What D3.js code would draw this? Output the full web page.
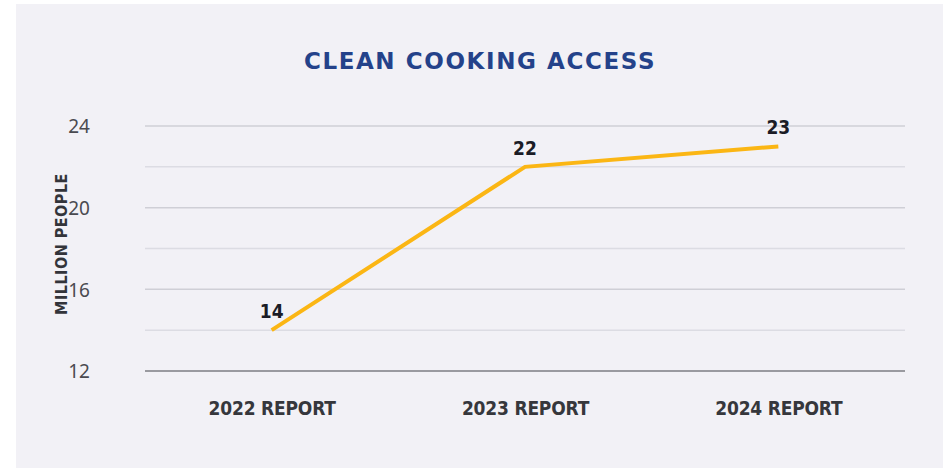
<!DOCTYPE html>
<html>
<head>
<meta charset="utf-8">
<script src="https://cdn.jsdelivr.net/npm/d3@7"></script>
<style>
  body { margin: 0; background: #ffffff; }
</style>
</head>
<body>
<div id="chart"></div>
<script>
var reports = ["2022 REPORT", "2023 REPORT", "2024 REPORT"];
var people = [14, 22, 23];
var yTicks = [12, 16, 20, 24];
var yGrid = [12, 14, 16, 18, 20, 22, 24];

var wd = 943, ht = 468;
var narrow = "'DejaVu Sans Condensed', 'DejaVu Sans', sans-serif";

var svg = d3.select('#chart')
	.append("svg")
	.attr("width", wd)
	.attr("height", ht);

// panel background
svg.append("rect")
	.attr("x", 16)
	.attr("y", 4)
	.attr("width", wd - 16)
	.attr("height", ht - 4)
	.attr("fill", "#f2f1f6");

var x = d3.scalePoint().domain(reports).range([145, 905]).padding(0.5);
var y = d3.scaleLinear().domain([12, 24]).range([371, 126]);

svg.append("text")
	.attr("x", 480)
	.attr("y", 69)
	.attr("text-anchor", "middle")
	.style("font-family", "'DejaVu Sans', sans-serif")
	.style("font-weight", "bold")
	.style("font-size", "23px")
	.style("letter-spacing", "1.6px")
	.attr("fill", "#24428a")
	.text("CLEAN COOKING ACCESS");

// gridlines
svg.selectAll(".grid")
	.data(yGrid)
	.enter()
	.append("line")
	.attr("class", "grid")
	.attr("x1", 145)
	.attr("x2", 905)
	.attr("y1", function (d) { return y(d); })
	.attr("y2", function (d) { return y(d); })
	.attr("stroke", function (d) { return d === 12 ? "#9a9aa0" : (d % 4 === 0 ? "#cfcfd6" : "#dcdce3"); })
	.attr("stroke-width", function (d) { return d === 12 ? 2 : 1.5; });

// y axis labels
var yAxis = d3.axisLeft(y).tickValues(yTicks).tickSize(0).tickPadding(0);
var gy = svg.append("g")
	.attr("transform", "translate(90,0)")
	.call(yAxis);
gy.select(".domain").remove();
gy.selectAll("text")
	.attr("dy", "0.36em")
	.style("font-family", "'Noto Sans', sans-serif")
	.style("font-weight", "400")
	.style("font-size", "19px")
	.attr("fill", "#4a4a50");

svg.append("text")
	.attr("transform", "translate(67,244) rotate(-90)")
	.attr("text-anchor", "middle")
	.style("font-family", narrow)
	.style("font-weight", "bold")
	.style("font-size", "16px")
	.style("letter-spacing", "0.5px")
	.attr("fill", "#33343a")
	.text("MILLION PEOPLE");

// x axis labels
var xAxis = d3.axisBottom(x).tickSize(0).tickPadding(0);
var gx = svg.append("g")
	.attr("transform", "translate(0,401)")
	.call(xAxis);
gx.select(".domain").remove();
gx.selectAll("text")
	.attr("dy", "0.71em")
	.style("font-family", narrow)
	.style("font-weight", "bold")
	.style("font-size", "19px")
	.style("letter-spacing", "-0.2px")
	.attr("fill", "#36373c");

// line
var line = d3.line()
	.x(function (d, i) { return x(reports[i]); })
	.y(function (d) { return y(d); });

svg.append("path")
	.datum(people)
	.attr("d", line)
	.attr("fill", "none")
	.attr("stroke", "#fbb614")
	.attr("stroke-width", 4);

// value labels
svg.selectAll(".val")
	.data(people)
	.enter()
	.append("text")
	.attr("class", "val")
	.attr("x", function (d, i) { return x(reports[i]); })
	.attr("y", function (d) { return y(d) - 12; })
	.attr("text-anchor", "middle")
	.style("font-family", narrow)
	.style("font-weight", "bold")
	.style("font-size", "19px")
	.attr("fill", "#1b1c26")
	.text(function (d) { return d; });
</script>
</body>
</html>
